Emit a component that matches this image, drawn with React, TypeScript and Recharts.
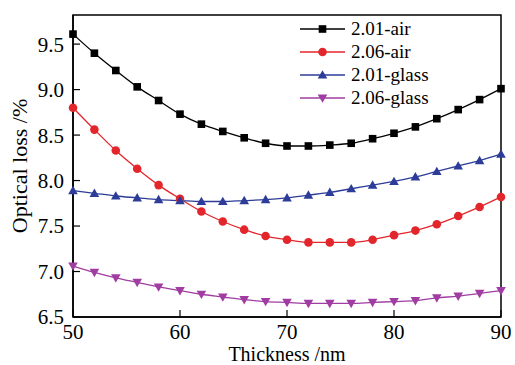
import React from 'react';
import { LineChart, Line, XAxis, YAxis, ReferenceArea, Legend } from 'recharts';

const thickness = [50, 52, 54, 56, 58, 60, 62, 64, 66, 68, 70, 72, 74, 76, 78, 80, 82, 84, 86, 88, 90];
const air201 = [9.61, 9.40, 9.21, 9.03, 8.88, 8.73, 8.62, 8.54, 8.47, 8.41, 8.38, 8.38, 8.39, 8.41, 8.46, 8.52, 8.59, 8.68, 8.78, 8.89, 9.01];
const air206 = [8.80, 8.56, 8.33, 8.13, 7.95, 7.80, 7.66, 7.55, 7.46, 7.39, 7.35, 7.32, 7.32, 7.32, 7.35, 7.40, 7.45, 7.52, 7.61, 7.71, 7.82];
const glass201 = [7.89, 7.86, 7.83, 7.81, 7.79, 7.78, 7.77, 7.77, 7.78, 7.79, 7.81, 7.84, 7.87, 7.91, 7.95, 7.99, 8.04, 8.10, 8.16, 8.22, 8.29];
const glass206 = [7.06, 6.99, 6.93, 6.88, 6.83, 6.79, 6.75, 6.72, 6.69, 6.67, 6.66, 6.65, 6.65, 6.65, 6.66, 6.67, 6.68, 6.71, 6.73, 6.76, 6.79];
const xTicks = [50, 60, 70, 80, 90];
const yTicks = [6.5, 7.0, 7.5, 8.0, 8.5, 9.0, 9.5];

type Shape = 'square' | 'circle' | 'up' | 'down';
const series: { key: string; name: string; color: string; shape: Shape; values: number[] }[] = [
  { key: 'a201', name: '2.01-air', color: '#000000', shape: 'square', values: air201 },
  { key: 'a206', name: '2.06-air', color: '#e3262c', shape: 'circle', values: air206 },
  { key: 'g201', name: '2.01-glass', color: '#2c3c98', shape: 'up', values: glass201 },
  { key: 'g206', name: '2.06-glass', color: '#a03ca2', shape: 'down', values: glass206 },
];

const data = thickness.map((t, i) => {
  const row: Record<string, number> = { t };
  series.forEach((s) => (row[s.key] = s.values[i]));
  return row;
});

const FONT = '"Liberation Serif", "Times New Roman", serif';

function marker(shape: Shape, cx: number, cy: number, color: string, key?: string | number) {
  if (shape === 'square') return <rect key={key} x={cx - 3.8} y={cy - 3.8} width={7.6} height={7.6} fill={color} />;
  if (shape === 'circle') return <circle key={key} cx={cx} cy={cy} r={4.3} fill={color} />;
  if (shape === 'up')
    return <polygon key={key} points={`${cx},${cy - 4.8} ${cx + 4.8},${cy + 3.6} ${cx - 4.8},${cy + 3.6}`} fill={color} />;
  return <polygon key={key} points={`${cx},${cy + 4.8} ${cx + 4.8},${cy - 3.6} ${cx - 4.8},${cy - 3.6}`} fill={color} />;
}

const LegendContent = () => (
  <svg width={170} height={100} style={{ display: 'block' }}>
    {series.map((s, i) => {
      const y = 14 + i * 23;
      return (
        <g key={s.key}>
          <line x1={5} x2={50} y1={y} y2={y} stroke={s.color} strokeWidth={1.3} />
          {marker(s.shape, 27.5, y, s.color)}
          <text x={56} y={y + 6} fontFamily={FONT} fontSize={19} fill="#000">
            {s.name}
          </text>
        </g>
      );
    })}
  </svg>
);

export default function App() {
  return (
    <div style={{ position: 'absolute', left: 0, top: 0 }}>
      <LineChart width={515} height={365} data={data} margin={{ top: 15, right: 14, left: 0, bottom: 0 }}>
        <XAxis
          dataKey="t"
          type="number"
          domain={[50, 90]}
          ticks={xTicks}
          tickSize={-7}
          tickMargin={14}
          axisLine={{ stroke: '#000', strokeWidth: 1.5 }}
          tickLine={{ stroke: '#000', strokeWidth: 1.2 }}
          tick={{ fill: '#000', fontFamily: FONT, fontSize: 21 }}
          height={48}
          label={{ value: 'Thickness /nm', position: 'insideBottom', offset: 4, fill: '#000', fontFamily: FONT, fontSize: 20 }}
        />
        <YAxis
          type="number"
          domain={[6.5, 9.82]}
          ticks={yTicks}
          tickFormatter={(v: number) => v.toFixed(1)}
          tickSize={-7}
          tickMargin={16}
          axisLine={{ stroke: '#000', strokeWidth: 1.5 }}
          tickLine={{ stroke: '#000', strokeWidth: 1.2 }}
          tick={{ fill: '#000', fontFamily: FONT, fontSize: 21 }}
          width={73}
          allowDataOverflow
          label={{
            value: 'Optical loss /%',
            angle: -90,
            position: 'insideLeft',
            offset: 19,
            fill: '#000',
            fontFamily: FONT,
            fontSize: 22,
            style: { textAnchor: 'middle' },
          }}
        />
        <ReferenceArea x1={50} x2={90} y1={6.5} y2={9.82} fill="none" stroke="#000" strokeWidth={1.5} ifOverflow="visible" />
        {series.map((s) => (
          <Line
            key={s.key}
            dataKey={s.key}
            name={s.name}
            type="monotone"
            stroke={s.color}
            strokeWidth={1.3}
            isAnimationActive={false}
            dot={(p: any) => marker(s.shape, p.cx, p.cy, s.color, p.index)}
            activeDot={false}
          />
        ))}
        <Legend
          layout="vertical"
          align="center"
          verticalAlign="middle"
          content={LegendContent}
          wrapperStyle={{ position: 'absolute', left: 295, top: 15, width: 170, height: 100 }}
        />
      </LineChart>
    </div>
  );
}
